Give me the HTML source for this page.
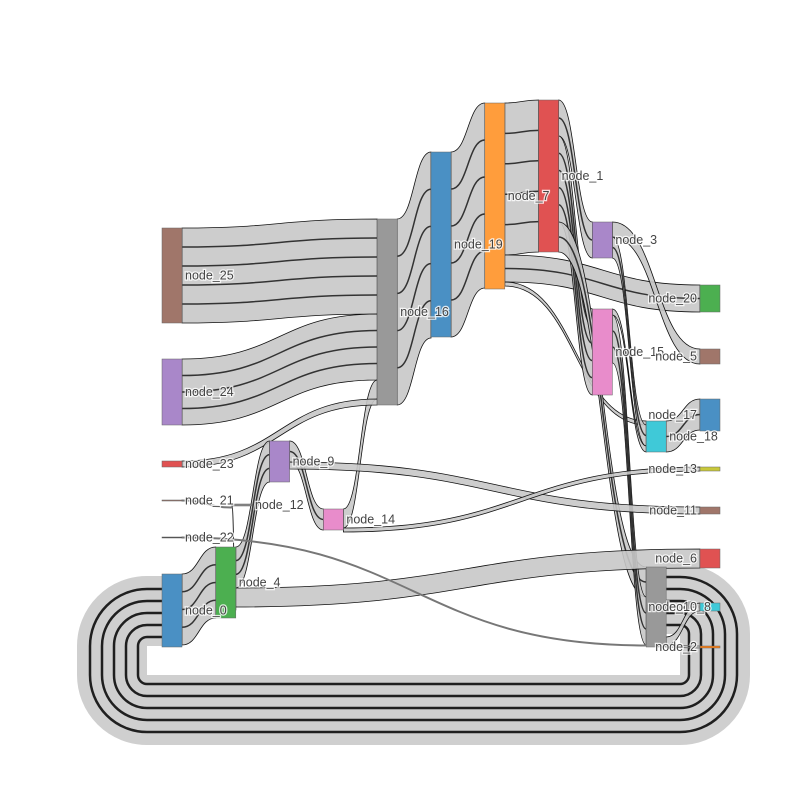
<!DOCTYPE html>
<html><head><meta charset="utf-8"><style>
body{margin:0;background:#fff}
svg text{font-family:"Liberation Sans",sans-serif;font-size:12.5px;fill:#444;paint-order:stroke;stroke:#fff;stroke-width:2.5px;stroke-opacity:.8}
</style></head><body>
<svg id="c" width="800" height="800"></svg>
<script>
const nodeNames=["node_25","node_24","node_23","node_21","node_22","node_0","node_4","node_12","node_9","node_14","node_16","node_19","node_7","node_1","node_3","node_15","node_18","node_8","node_20","node_5","node_17","node_13","node_11","node_6","node_10","node_2"];
const nodeCols=[0,0,0,0,0,0,1,1.3,2,3,4,5,6,7,8,8,9,9,10,10,10,10,10,10,10,10];
const nodeTops=[228,359,461,500,537,574,547,504,441,509,219,152,103,100,222,309,421,567,285,349,399,467,507,549,603,646];
const nodeValues=[95,66,6,1,1,73,71,2,41,21,186,185,186,152,36,86,31,80,27,15,32,4,7,19,8,2];
const nodeColors=["#a0766a","#a987c9","#e05252","#a0766a","#444","#4a90c4","#4caf50","#888","#a987c9","#e88ccb","#999","#4a90c4","#ff9d3c","#e05252","#a987c9","#e88ccb","#3fc9d8","#999","#4caf50","#a0766a","#4a90c4","#c8c83a","#a0766a","#e05252","#3fc9d8","#ff7f0e"];
const linkSrc=["node_25","node_24","node_14","node_23","node_16","node_19","node_7","node_7","node_7","node_1","node_1","node_1","node_3","node_3","node_15","node_15","node_18","node_0","node_4","node_4","node_4","node_9","node_9","node_14","node_21","node_22","node_8","node_8"];
const linkTgt=["node_16","node_16","node_16","node_16","node_19","node_7","node_1","node_20","node_18","node_3","node_15","node_8","node_5","node_18","node_18","node_8","node_17","node_4","node_9","node_6","node_12","node_14","node_11","node_13","node_12","node_8","node_10","node_2"];
const linkValues=[95,66,19,6,186,185,152,27,4,36,86,30,15,21,6,48,31,71,41,19,3,21,7,4,1,1,8,2];
const loopValue=70;
function xOf(col){return 162+col*53.8}
const svg=document.getElementById('c');
const NS='http://www.w3.org/2000/svg';
const N={};
nodeNames.forEach((n,i)=>{N[n]={x:xOf(nodeCols[i]),y:nodeTops[i],h:nodeValues[i],out:0,inn:0,col:nodeCols[i],c:nodeColors[i]};});
const gl=document.createElementNS(NS,'g');svg.appendChild(gl);
(function(){
 const a=N["node_8"],b=N["node_0"];const w=loopValue;
 const y1=a.y+w/2-3,y2=b.y+w/2+2;const R=35;
 function dp(o){const r=R-o;
  return `M${a.x+20},${y1+o} L680,${y1+o} A${r},${r} 0 0 1 ${680+r},${y1+R} L${680+r},675 A${r},${r} 0 0 1 680,${675+r} L147,${675+r} A${r},${r} 0 0 1 ${147-r},675 L${147-r},${y2+R} A${r},${r} 0 0 1 147,${y2+o} L${b.x},${y2+o}`;}
 const p=document.createElementNS(NS,'path');p.setAttribute('d',dp(0));p.setAttribute('fill','none');p.setAttribute('stroke','#cfcfcf');p.setAttribute('stroke-width',w);
 
 
 gl.appendChild(p);
 [-22,-10,2,14,26].forEach(o=>{const q=document.createElementNS(NS,'path');q.setAttribute('d',dp(o));q.setAttribute('fill','none');q.setAttribute('stroke','#000');q.setAttribute('stroke-width',2.5);q.setAttribute('stroke-opacity',.85);
  
  
  gl.appendChild(q);});
 N["node_8"].out+=w;N["node_0"].inn+=w;
})();
linkValues.forEach((v,i)=>{
 const s=N[linkSrc[i]],t=N[linkTgt[i]];
 const sy=s.y+s.out,ty=t.y+t.inn;s.out+=v;t.inn+=v;
 const x0=s.x+20,x1=t.x,mx=(x0+x1)/2;
 const d=`M${x0},${sy} C${mx},${sy} ${mx},${ty} ${x1},${ty} L${x1},${ty+v} C${mx},${ty+v} ${mx},${sy+v} ${x0},${sy+v} Z`;
 const p=document.createElementNS(NS,'path');p.setAttribute('d',d);
 p.setAttribute('fill',v<=2?'none':'#c8c8c8');p.setAttribute('fill-opacity',.9);
 p.setAttribute('stroke',v<=2?'#777':'#111');p.setAttribute('stroke-width',v<=2?1:0.8);
 
 
 gl.appendChild(p);
 if(v>8){const n=Math.min(4,Math.floor(v/20));for(let k=1;k<=n;k++){const o=v*k/(n+1);const q=document.createElementNS(NS,'path');
  q.setAttribute('d',`M${x0},${sy+o} C${mx},${sy+o} ${mx},${ty+o} ${x1},${ty+o}`);q.setAttribute('fill','none');q.setAttribute('stroke','#333');q.setAttribute('stroke-width',1.5);
  
  
  gl.appendChild(q);}}
});
nodeNames.forEach(n=>{const o=N[n];
 const r=document.createElementNS(NS,'rect');r.setAttribute('x',o.x);r.setAttribute('y',o.y);r.setAttribute('width',20);r.setAttribute('height',Math.max(o.h,1));
 r.setAttribute('fill',o.c);r.setAttribute('stroke','#666');r.setAttribute('stroke-width',0.5);
 
 
 svg.appendChild(r);});
nodeNames.forEach(n=>{const o=N[n];
 const t=document.createElementNS(NS,'text');const right=o.col<10;
 t.setAttribute('x',right?o.x+23:o.x-3);t.setAttribute('y',o.y+Math.max(o.h,1)/2+4);
 t.setAttribute('text-anchor',right?'start':'end');t.textContent=n;
 
 
 svg.appendChild(t);});
</script>
</body></html>
